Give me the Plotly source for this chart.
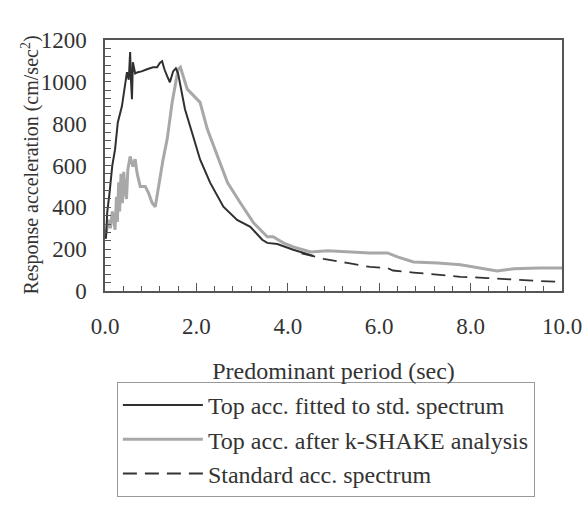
import plotly.graph_objects as go

# Top acc. fitted to std. spectrum
fit_T = [0.02, 0.05, 0.1, 0.16, 0.22, 0.28, 0.37, 0.44, 0.48, 0.52, 0.55, 0.57, 0.59, 0.61, 0.66, 0.72,
         0.8, 0.92, 1.05, 1.14, 1.2, 1.25, 1.3, 1.36, 1.42, 1.49, 1.55, 1.6, 1.75, 1.93, 2.08,
         2.3, 2.59, 2.89, 3.18, 3.44, 3.55, 3.77, 4.12, 4.56]
fit_A = [250, 380, 470, 600, 677, 806, 883, 998, 1046, 1010, 1142, 1000, 917, 1094, 1040, 1046,
         1050, 1060, 1070, 1070, 1090, 1099, 1060, 1027, 998, 1050, 1065, 1040, 869, 739, 629,
         518, 403, 340, 307, 245, 230, 225, 197, 168]

# Top acc. after k-SHAKE analysis
ks_T = [0.0, 0.04, 0.08, 0.12, 0.16, 0.2, 0.22, 0.25, 0.27, 0.3, 0.32, 0.35, 0.38, 0.41, 0.44, 0.47,
        0.5, 0.55, 0.61, 0.66, 0.7, 0.77, 0.88, 0.95, 1.03, 1.1, 1.16, 1.27, 1.36, 1.47, 1.6, 1.65,
        1.8, 2.0, 2.08, 2.24, 2.46, 2.68, 2.96, 3.25, 3.4, 3.55, 3.68, 3.9, 4.12, 4.5, 4.87, 5.3,
        5.6, 5.8, 6.18, 6.4, 6.75, 7.28, 7.78, 8.2, 8.58, 8.95, 9.5, 10.0]
ks_A = [250, 293, 340, 300, 380, 330, 293, 450, 330, 520, 380, 560, 420, 570, 480, 440,
        580, 643, 595, 630, 566, 500, 500, 470, 422, 403, 485, 628, 725, 902, 1060, 1070,
        965, 917, 902, 773, 643, 518, 422, 326, 293, 259, 259, 230, 211, 187, 192, 187,
        187, 182, 182, 163, 139, 134, 125, 110, 96, 106, 110, 110]

# Standard acc. spectrum
std_T = [4.3, 4.78, 5.3, 5.8, 6.18, 6.3, 6.75, 7.28, 7.78, 8.37, 8.95, 9.47, 10.0]
std_A = [180, 154, 134, 115, 110, 98, 88, 77, 68, 62, 53, 48, 43]

x_ticks = [0, 2, 4, 6, 8, 10]
x_labels = ["0.0", "2.0", "4.0", "6.0", "8.0", "10.0"]
y_ticks = [0, 200, 400, 600, 800, 1000, 1200]
y_title = "Response acceleration (cm/sec<sup>2</sup>)"

font = "Liberation Serif, Times New Roman, serif"
fig = go.Figure()
fig.add_trace(go.Scatter(x=std_T, y=std_A, mode="lines", name="Standard acc. spectrum",
                         legendgroup="c", legendrank=3,
                         line=dict(color="#333333", width=1.8, dash="14px,8px")))
fig.add_trace(go.Scatter(x=ks_T, y=ks_A, mode="lines", name="Top acc. after k-SHAKE analysis",
                         legendgroup="b", legendrank=2,
                         line=dict(color="#a8a8a8", width=3)))
fig.add_trace(go.Scatter(x=fit_T, y=fit_A, mode="lines", name="Top acc. fitted to std. spectrum",
                         legendgroup="a", legendrank=1,
                         line=dict(color="#303030", width=2)))

fig.update_layout(
    width=587, height=505,
    margin=dict(l=105, r=25, t=40, b=214, autoexpand=False),
    paper_bgcolor="white", plot_bgcolor="white",
    font=dict(family=font, size=23, color="#333333"),
    showlegend=True,
    legend=dict(x=0.026, y=-0.3625, xanchor="left", yanchor="top",
                bordercolor="#999999", borderwidth=1,
                font=dict(family=font, size=24, color="#333333"),
                itemwidth=80, tracegroupgap=0, bgcolor="white"),
    annotations=[dict(text=y_title, xref="paper", yref="paper", x=-0.164, y=0.5,
                      xanchor="center", yanchor="middle", textangle=-90, showarrow=False,
                      font=dict(family=font, size=20, color="#333333"))],
)
fig.update_xaxes(range=[0, 10], tickvals=x_ticks, ticktext=x_labels, automargin=False,
                 showline=True, linecolor="#555555", linewidth=1.5, mirror=True,
                 ticks="inside", ticklen=8, tickcolor="#555555", showgrid=False, zeroline=False,
                 ticklabelstandoff=14,
                 minor=dict(dtick=0.4, ticks="inside", ticklen=5, tickcolor="#555555", showgrid=False),
                 title=dict(text="Predominant period (sec)", font=dict(size=24), standoff=24))
fig.update_yaxes(range=[0, 1200], tickvals=y_ticks, automargin=False,
                 showline=True, linecolor="#555555", linewidth=1.5, mirror=True,
                 ticks="inside", ticklen=6, tickcolor="#555555", showgrid=False, zeroline=False,
                 ticklabelstandoff=12,
                 minor=dict(dtick=40, ticks="inside", ticklen=6, tickcolor="#555555", showgrid=False))

fig.write_html("out.html")
